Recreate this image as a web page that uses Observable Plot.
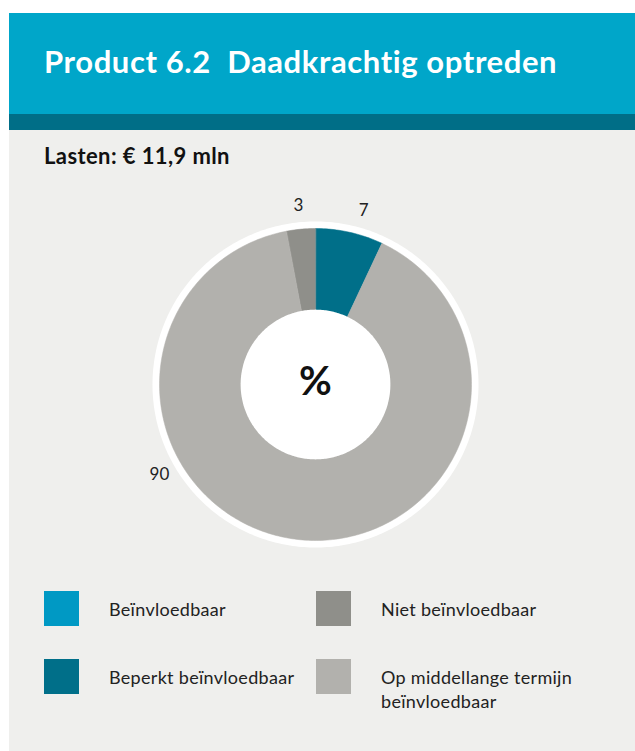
<!DOCTYPE html>
<html>
<head>
<meta charset="utf-8">
<script src="https://cdn.jsdelivr.net/npm/d3@7"></script>
<script src="https://cdn.jsdelivr.net/npm/@observablehq/plot@0.6"></script>
<style>
  html, body { margin: 0; padding: 0; background: #ffffff; }
  body { width: 635px; height: 751px; position: relative; overflow: hidden; font-family: Lato, "Open Sans", sans-serif; }
  #panel { position: absolute; left: 9px; top: 13px; width: 626px; height: 738px; background: #efefed; }
  #head { position: absolute; left: 9px; top: 13px; width: 626px; height: 101px; background: #00a6c9; }
  #band { position: absolute; left: 9px; top: 114px; width: 626px; height: 16px; background: #006e87; }
  #title { position: absolute; left: 44px; top: 46px; color: #fff; font-weight: 700; font-size: 31px; letter-spacing: 0.6px; line-height: 30px; white-space: pre; }
  #subtitle { position: absolute; left: 44px; top: 144px; color: #111; font-weight: 700; font-size: 22px; letter-spacing: 0.4px; line-height: 24px; white-space: pre; }
  #chart { position: absolute; left: 0; top: 184px; }
  .sw { position: absolute; width: 35px; height: 35px; }
  .lt { position: absolute; font-size: 18px; letter-spacing: 0.3px; line-height: 24px; color: #222; }
</style>
</head>
<body>
<div id="panel"></div>
<div id="head"></div>
<div id="band"></div>
<div id="title">Product 6.2  Daadkrachtig optreden</div>
<div id="subtitle">Lasten: € 11,9 mln</div>
<div id="chart"></div>
<div id="legend"></div>
<script>
// ---- data ----
const categories = ["Beïnvloedbaar", "Beperkt beïnvloedbaar", "Niet beïnvloedbaar", "Op middellange termijn beïnvloedbaar"];
const values = [0, 7, 3, 90];
const colors = ["#0099c4", "#006f89", "#8f8f8a", "#b2b1ad"];
const pieOrder = ["Beperkt beïnvloedbaar", "Op middellange termijn beïnvloedbaar", "Niet beïnvloedbaar", "Beïnvloedbaar"];
const centerLabel = "%";

// ---- layout ----
const R_OUT = 1, R_RING = 1.045, R_IN = 0.48, R_LABEL = 1.155;
const labelAngleOverride = {"Beperkt beïnvloedbaar": 15.5, "Op middellange termijn beïnvloedbaar": 240};
const STEPS = 360;

const rows = categories.map((c, i) => ({cat: c, value: values[i]}));
const pie = d3.pie().value(d => d.value)
  .sort((a, b) => pieOrder.indexOf(a.cat) - pieOrder.indexOf(b.cat))
  .startAngle(0).endAngle(2 * Math.PI);
const arcs = pie(rows).filter(a => a.data.value > 0);

const pt = (a, r) => ({x: Math.sin(a) * r, y: Math.cos(a) * r});
const slicePts = [];
for (const a of arcs) {
  const n = Math.max(2, Math.ceil((a.endAngle - a.startAngle) / (2 * Math.PI) * STEPS));
  slicePts.push({cat: a.data.cat, ...pt(0, 0)});
  for (let k = 0; k <= n; k++) {
    const ang = a.startAngle + (a.endAngle - a.startAngle) * k / n;
    slicePts.push({cat: a.data.cat, ...pt(ang, R_OUT)});
  }
}
const circle = (r, key) => d3.range(STEPS).map(k => ({key, ...pt(2 * Math.PI * k / STEPS, r)}));
const labels = arcs.map(a => {
  const deg = labelAngleOverride[a.data.cat];
  const ang = deg != null ? deg * Math.PI / 180 : (a.startAngle + a.endAngle) / 2;
  return {text: String(a.data.value), ...pt(ang, R_LABEL)};
});

const W = 635, H = 400, CX = 315, CY = 200, PX = 156; // pixels per unit radius
const half = 1.25;
const plot = Plot.plot({
  width: W, height: H,
  marginLeft: CX - half * PX, marginRight: W - CX - half * PX,
  marginTop: CY - half * PX, marginBottom: H - CY - half * PX,
  x: {domain: [-half, half], axis: null},
  y: {domain: [-half, half], axis: null},
  color: {domain: categories, range: colors},
  style: {background: "transparent", overflow: "visible"},
  marks: [
    Plot.line(circle(R_RING, "ring"), {x: "x", y: "y", fill: "#ffffff", stroke: null, curve: "linear-closed"}),
    Plot.line(slicePts, {x: "x", y: "y", z: "cat", fill: "cat", stroke: "cat", strokeWidth: 0.5, curve: "linear-closed"}),
    Plot.line(circle(R_IN, "hole"), {x: "x", y: "y", fill: "#ffffff", stroke: null, curve: "linear-closed"}),
    Plot.text([{x: 0, y: 0, t: centerLabel}], {x: "x", y: "y", text: "t", fontSize: 40, fontWeight: 700, fill: "#111", dy: -2, fontFamily: "Lato, sans-serif"}),
    Plot.text(labels, {x: "x", y: "y", text: "text", fontSize: 17, fill: "#222", fontFamily: "Lato, sans-serif"})
  ]
});
document.getElementById("chart").appendChild(plot);

// ---- legend ----
const legend = document.getElementById("legend");
categories.forEach((c, i) => {
  const col = Math.floor(i / 2), row = i % 2;
  const left = 44 + col * 272, top = 591 + row * 68;
  const sw = document.createElement("div");
  sw.className = "sw";
  sw.style.left = left + "px"; sw.style.top = top + "px";
  sw.style.background = colors[i];
  legend.appendChild(sw);
  const t = document.createElement("div");
  t.className = "lt";
  t.style.left = (left + 65) + "px"; t.style.top = (top + 6) + "px";
  t.style.width = "225px";
  t.textContent = c;
  legend.appendChild(t);
});
</script>
</body>
</html>
